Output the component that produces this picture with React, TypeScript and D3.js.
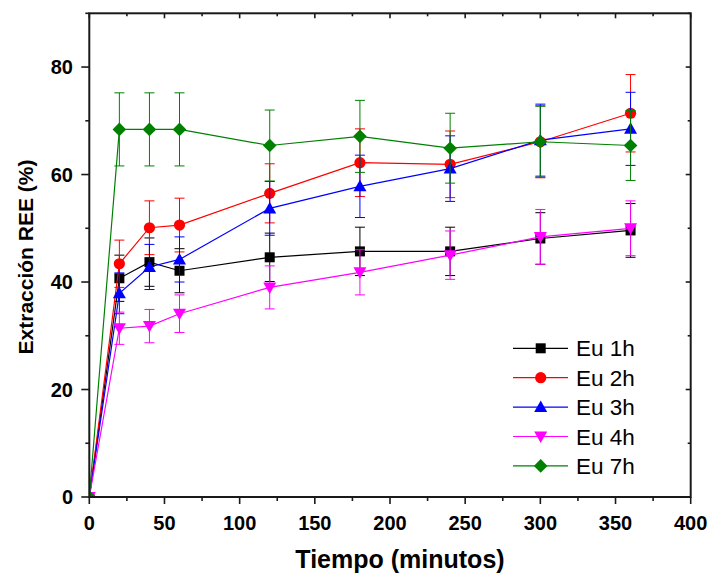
import React from "react";
import * as d3 from "d3";

const times = [0, 20, 40, 60, 120, 180, 240, 300, 360];
const seriesNames = ["Eu 1h", "Eu 2h", "Eu 3h", "Eu 4h", "Eu 7h"];
const eu1 = [0, 40.7, 43.7, 42.1, 44.6, 45.7, 45.7, 48.1, 49.6];
const err1 = [0, 4.3, 4.5, 4.1, 4.5, 4.5, 4.5, 4.8, 5.0];
const eu2 = [0, 43.4, 50.1, 50.6, 56.5, 62.2, 61.9, 66.1, 71.4];
const err2 = [0, 4.4, 5.0, 5.0, 5.5, 6.3, 6.2, 6.7, 7.2];
const eu3 = [0, 37.9, 42.8, 44.2, 53.7, 57.8, 61.1, 66.4, 68.5];
const err3 = [0, 3.8, 4.2, 4.2, 5.0, 5.8, 6.1, 6.7, 6.8];
const eu4 = [0, 31.4, 31.8, 34.1, 39.0, 41.8, 45.0, 48.4, 50.0];
const err4 = [0, 3.0, 3.1, 3.5, 4.0, 4.2, 4.5, 5.1, 5.1];
const eu7 = [0, 68.4, 68.4, 68.4, 65.4, 67.1, 64.9, 66.1, 65.4];
const err7 = [0, 6.8, 6.8, 6.8, 6.6, 6.7, 6.5, 6.6, 6.5];
const xTicks = [0, 50, 100, 150, 200, 250, 300, 350, 400];
const yTicks = [0, 20, 40, 60, 80];

const colors = ["#000000", "#ff0000", "#0000ff", "#ff00ff", "#008000"];
const shapes = ["square", "circle", "up", "down", "diamond"];

const W = 712, H = 575;
const L = 89.3, R = 690.7, T = 13.3, B = 497;
const FONT = "'Liberation Sans', Arial, Helvetica, sans-serif";

function Marker({ shape, x, y, color }: { shape: string; x: number; y: number; color: string }) {
  if (shape === "square") return <rect x={x - 5} y={y - 5} width={10} height={10} fill={color} />;
  if (shape === "circle") return <circle cx={x} cy={y} r={5.6} fill={color} />;
  if (shape === "up") return <path d={`M${x},${y - 6.5} L${x + 6.5},${y + 5} L${x - 6.5},${y + 5} Z`} fill={color} />;
  if (shape === "down") return <path d={`M${x},${y + 6.5} L${x + 6.5},${y - 5} L${x - 6.5},${y - 5} Z`} fill={color} />;
  return <path d={`M${x},${y - 6.8} L${x + 6.8},${y} L${x},${y + 6.8} L${x - 6.8},${y} Z`} fill={color} />;
}

export default function App() {
  const x = d3.scaleLinear().domain([0, 400]).range([L, R]);
  const y = d3.scaleLinear().domain([0, 90]).range([B, T]);
  const vals = [eu1, eu2, eu3, eu4, eu7];
  const errs = [err1, err2, err3, err4, err7];
  const line = d3.line<number>().x((_, i) => x(times[i])).y((d) => y(d));

  const xMinor = d3.range(0, 401, 25);
  const yMinor = d3.range(0, 91, 10);

  return (
    <svg width={W} height={H} style={{ position: "absolute", left: 0, top: 0, background: "#fff" }} fontFamily={FONT}>
      <defs>
        <clipPath id="plotclip">
          <rect x={L} y={T} width={R - L} height={B - T} />
        </clipPath>
      </defs>
      <rect x={0} y={0} width={W} height={H} fill="#fff" />
      <g clipPath="url(#plotclip)">
        {vals.map((v, s) => (
          <g key={s}>
            <path d={line(v) || ""} fill="none" stroke={colors[s]} strokeWidth={1.2} />
            {v.map((d, i) =>
              errs[s][i] > 0 ? (
                <g key={i} stroke={colors[s]} strokeWidth={1}>
                  <line x1={x(times[i])} x2={x(times[i])} y1={y(d + errs[s][i])} y2={y(d - errs[s][i])} />
                  <line x1={x(times[i]) - 5} x2={x(times[i]) + 5} y1={y(d + errs[s][i])} y2={y(d + errs[s][i])} />
                  <line x1={x(times[i]) - 5} x2={x(times[i]) + 5} y1={y(d - errs[s][i])} y2={y(d - errs[s][i])} />
                </g>
              ) : null
            )}
            {v.map((d, i) => (
              <Marker key={"m" + i} shape={shapes[s]} x={x(times[i])} y={y(d)} color={colors[s]} />
            ))}
          </g>
        ))}
      </g>

      {/* frame */}
      <rect x={L} y={T} width={R - L} height={B - T} fill="none" stroke="#1a1a1a" strokeWidth={2} />

      {/* bottom ticks (outward) and top ticks (inward) */}
      {xMinor.map((t) => {
        const major = t % 50 === 0;
        return (
          <g key={"xt" + t} stroke="#1a1a1a" strokeWidth={1.6}>
            <line x1={x(t)} x2={x(t)} y1={B} y2={B + (major ? 7 : 4)} />
            <line x1={x(t)} x2={x(t)} y1={T} y2={T + (major ? 5 : 3)} />
          </g>
        );
      })}
      {yMinor.map((t) => {
        const major = t % 20 === 0;
        return (
          <g key={"yt" + t} stroke="#1a1a1a" strokeWidth={1.6}>
            <line x1={L} x2={L - (major ? 8 : 4)} y1={y(t)} y2={y(t)} />
            <line x1={R} x2={R - (major ? 5 : 3)} y1={y(t)} y2={y(t)} />
          </g>
        );
      })}

      {xTicks.map((t) => (
        <text key={"xl" + t} x={x(t)} y={530} textAnchor="middle" fontSize={20} fontWeight="bold" fill="#000">
          {t}
        </text>
      ))}
      {yTicks.map((t) => (
        <text key={"yl" + t} x={73} y={y(t) + 7} textAnchor="end" fontSize={20} fontWeight="bold" fill="#000">
          {t}
        </text>
      ))}

      <text x={400} y={568} textAnchor="middle" fontSize={25} fontWeight="bold" fill="#000">
        Tiempo (minutos)
      </text>
      <text
        transform={`translate(33,257) rotate(-90)`}
        textAnchor="middle"
        fontSize={21}
        fontWeight="bold"
        fill="#000"
      >
        Extracción REE (%)
      </text>

      {/* legend */}
      {seriesNames.map((n, s) => {
        const ly = 348.3 + s * 29.4;
        return (
          <g key={"lg" + s}>
            <line x1={513} x2={568} y1={ly} y2={ly} stroke={colors[s]} strokeWidth={1.2} />
            <Marker shape={shapes[s]} x={540.7} y={ly} color={colors[s]} />
            <text x={576} y={ly + 8} fontSize={22.5} fill="#000">
              {n}
            </text>
          </g>
        );
      })}
    </svg>
  );
}
